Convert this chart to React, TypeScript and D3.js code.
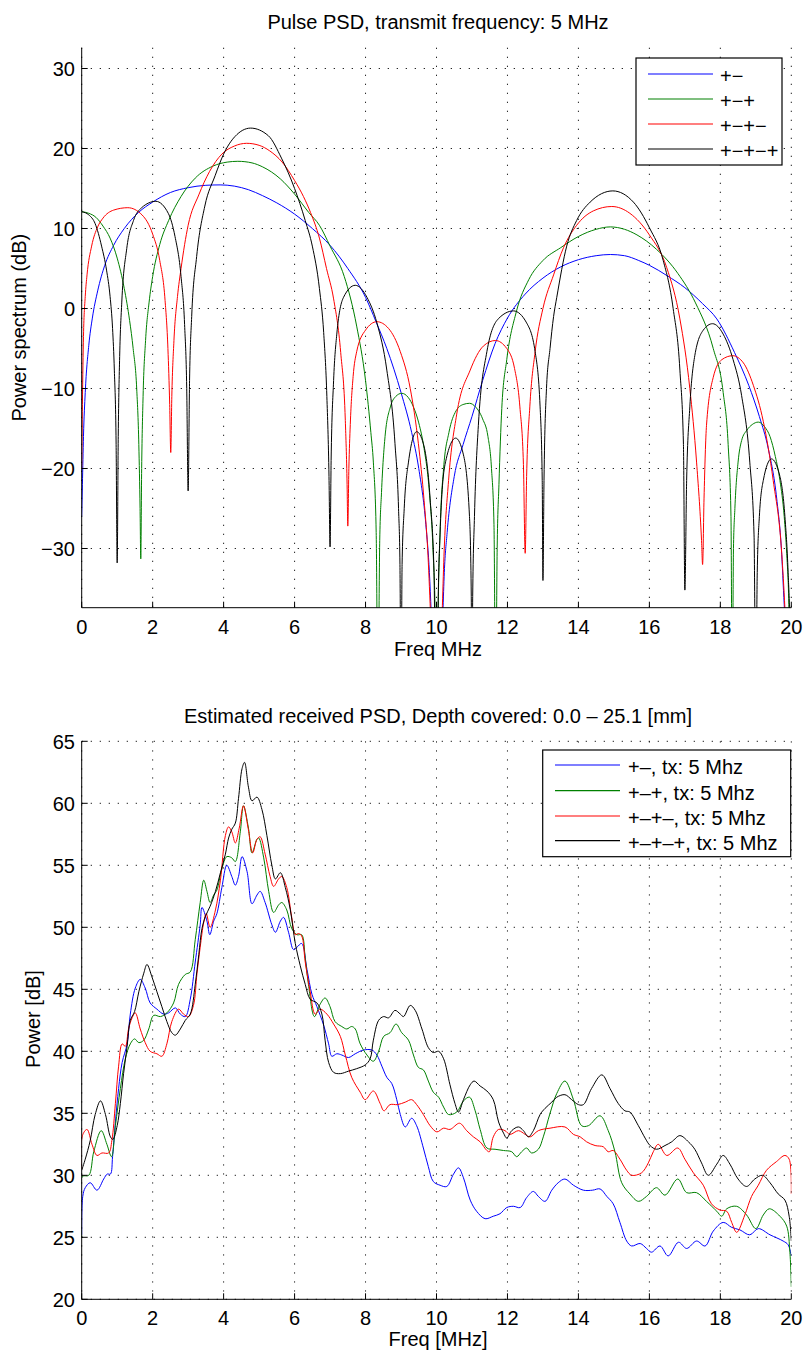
import React from 'react';
import * as d3 from 'd3';

type Pt = [number, number];

// ---------- shared axis data ----------
const freqTicks = [0, 2, 4, 6, 8, 10, 12, 14, 16, 18, 20];
const pulseDbTicks = [-30, -20, -10, 0, 10, 20, 30];
const powerTicks = [20, 25, 30, 35, 40, 45, 50, 55, 60, 65];

const seriesColors = ['#0000ff', '#008000', '#ff0000', '#000000'];
const pulseLabels = ['+\u2212', '+\u2212+', '+\u2212+\u2212', '+\u2212+\u2212+'];
const rxLabels = ['+\u2013, tx: 5 Mhz', '+\u2013+, tx: 5 Mhz', '+\u2013+\u2013, tx: 5 Mhz', '+\u2013+\u2013+, tx: 5 Mhz'];

const pulseTitle = 'Pulse PSD, transmit frequency: 5 MHz';
const rxTitle = 'Estimated received PSD, Depth covered: 0.0 \u2013 25.1 [mm]';

// ---------- top panel: pulse PSD (freq MHz, dB) ----------
const pulsePM: Pt[] = [
  [0, -26], [0.02, -22], [0.05, -16], [0.1, -10.5], [0.2, -4.6], [0.3, -1.2], [0.45, 2.2], [0.65, 5.4],
  [0.9, 7.9], [1.2, 10.0], [1.6, 12.0], [2.0, 13.3], [2.5, 14.5], [3.0, 15.1], [3.5, 15.4], [3.9, 15.45],
  [4.3, 15.3], [4.7, 14.85], [5.1, 14.1], [5.5, 13.2], [6.0, 11.8], [6.5, 10.0], [7.0, 7.9], [7.5, 5.0],
  [8.0, 1.4], [8.3, -1.7], [8.6, -5.0], [9.0, -10.5], [9.3, -15.5], [9.5, -20], [9.7, -27], [9.8, -33],
  [9.85, -38], [10.0, -60], [10.18, -38], [10.22, -33], [10.3, -28], [10.5, -21], [10.75, -17], [11.0, -13.5],
  [11.3, -9.0], [11.65, -4.4], [12.0, -1.2], [12.5, 1.8], [13.0, 3.8], [13.5, 5.2], [14.0, 6.1], [14.5, 6.6],
  [14.9, 6.75], [15.3, 6.6], [15.7, 6.0], [16.0, 5.4], [16.5, 4.1], [17.0, 2.6], [17.5, 0.6], [17.9, -1.3],
  [18.4, -5.5], [18.8, -9.6], [19.1, -13.5], [19.35, -17.5], [19.59, -23.8], [19.72, -30], [19.8, -37],
  [19.9, -45], [20, -60],
];

const pulsePMP: Pt[] = [
  [0, 12.1], [0.2, 11.9], [0.4, 11.4], [0.6, 10.3], [0.8, 8.8], [1.0, 6.3], [1.2, 2.5], [1.35, -1.5],
  [1.45, -5], [1.55, -10], [1.61, -17], [1.645, -25], [1.665, -31.3], [1.69, -20], [1.73, -11], [1.8, -4],
  [1.9, 0.8], [2.0, 4.0], [2.2, 8.0], [2.45, 11.0], [2.8, 14.0], [3.2, 16.3], [3.7, 17.8], [4.1, 18.3],
  [4.4, 18.4], [4.8, 18.2], [5.1, 17.7], [5.6, 16.2], [6.0, 14.3], [6.4, 12.0], [6.7, 10.4], [7.0, 7.8],
  [7.4, 4.0], [7.75, -2.2], [8.0, -9], [8.15, -15.5], [8.22, -19.2], [8.3, -28], [8.35, -50], [8.4, -29],
  [8.45, -23], [8.55, -16], [8.7, -12.3], [8.85, -11], [9.02, -10.6], [9.2, -11.1], [9.35, -12.3],
  [9.5, -14.3], [9.65, -17.5], [9.8, -23], [9.9, -30], [9.97, -40], [10.0, -60], [10.04, -40], [10.1, -28],
  [10.2, -20], [10.35, -15.5], [10.55, -12.8], [10.75, -12.0], [10.93, -11.85], [11.1, -12.3], [11.3, -13.8],
  [11.45, -16], [11.55, -20], [11.62, -27], [11.667, -50], [11.71, -30], [11.76, -22], [11.84, -12.5],
  [11.98, -6.4], [12.25, -0.4], [12.6, 3.6], [13.0, 6.0], [13.5, 7.6], [14.0, 9.0], [14.5, 9.9], [14.9, 10.2],
  [15.3, 9.9], [15.65, 9.2], [16.2, 7.4], [16.8, 4.4], [17.3, 0.7], [17.8, -5], [18.08, -10.5], [18.22, -17],
  [18.3, -26], [18.335, -50], [18.37, -30], [18.41, -25], [18.5, -19.2], [18.6, -16.5], [18.75, -15.2],
  [18.9, -14.5], [19.07, -14.2], [19.25, -14.8], [19.4, -16], [19.55, -18.5], [19.68, -21.5], [19.8, -26],
  [19.87, -30.6], [19.93, -37], [20, -60],
];

const pulsePMPM: Pt[] = [
  [0, -20], [0.02, -12], [0.05, -3.5], [0.1, 1.5], [0.15, 4.2], [0.28, 7.8], [0.45, 10.2], [0.6, 11.3],
  [0.9, 12.3], [1.3, 12.6], [1.7, 11.7], [2.0, 9.3], [2.2, 6.0], [2.35, 1.0], [2.43, -5], [2.48, -12],
  [2.51, -18], [2.54, -11], [2.6, -4], [2.7, 1.5], [2.8, 5.0], [3.0, 10.4], [3.3, 14.2], [3.6, 17.1],
  [3.95, 19.3], [4.3, 20.3], [4.65, 20.65], [5.0, 20.4], [5.3, 19.7], [5.65, 18.3], [6.0, 16.0], [6.25, 14.0],
  [6.45, 12.0], [6.7, 8.8], [6.9, 5.0], [7.1, 1.2], [7.3, -5.5], [7.43, -14], [7.48, -22], [7.5, -27.2],
  [7.53, -20], [7.57, -14.5], [7.65, -8.5], [7.75, -5.4], [8.0, -2.7], [8.32, -1.65], [8.65, -2.5],
  [8.98, -5.4], [9.26, -10], [9.49, -16.9], [9.65, -24], [9.75, -30], [9.83, -38], [10.0, -60], [10.16, -38],
  [10.21, -31], [10.34, -21.5], [10.57, -13.2], [10.95, -7.7], [11.32, -4.7], [11.66, -4.0], [11.98, -5.0],
  [12.2, -7.5], [12.35, -12.3], [12.45, -19.5], [12.5, -30.6], [12.54, -21], [12.63, -12.3], [12.78, -5.4],
  [13.0, 0], [13.3, 4.2], [13.58, 7.6], [13.95, 10.4], [14.42, 12.2], [14.94, 12.75], [15.45, 11.9],
  [16.0, 9.2], [16.49, 5.1], [16.86, -1.3], [17.14, -10], [17.33, -19.2], [17.47, -29], [17.5, -32],
  [17.54, -23.8], [17.61, -14.6], [17.8, -8.6], [18.04, -6.4], [18.35, -5.9], [18.65, -6.8], [18.93, -9.6],
  [19.21, -14.1], [19.49, -21.5], [19.73, -30.6], [19.82, -37.5], [20, -60],
];

const pulsePMPMP: Pt[] = [
  [0, 12.1], [0.2, 11.7], [0.38, 10.6], [0.56, 7.8], [0.7, 4.8], [0.8, 1.5], [0.87, -2.5], [0.92, -7.7],
  [0.97, -17], [1.0, -31.8], [1.03, -16], [1.07, -6], [1.13, 0.8], [1.27, 7.5], [1.46, 11.0], [1.69, 12.6],
  [2.09, 13.4], [2.44, 11.9], [2.63, 9.0], [2.8, 4.0], [2.9, -2], [2.96, -10], [3.0, -22.8], [3.04, -9],
  [3.1, -1], [3.24, 6.5], [3.47, 12.8], [3.76, 16.6], [4.0, 19.3], [4.32, 21.5], [4.76, 22.55], [5.26, 21.6],
  [5.63, 18.8], [6.0, 15.0], [6.3, 11.0], [6.5, 7.8], [6.7, 2.5], [6.82, -3], [6.91, -11], [6.97, -21],
  [7.0, -29.8], [7.03, -19], [7.1, -9], [7.19, -3.2], [7.38, 1.4], [7.71, 2.9], [8.04, 1.4], [8.32, -1.8],
  [8.6, -7.7], [8.83, -16.9], [8.93, -25], [8.97, -32], [9.0, -50], [9.03, -32], [9.09, -25], [9.21, -19.2],
  [9.44, -15.4], [9.63, -16.9], [9.82, -23.8], [9.93, -33], [10.0, -60], [10.05, -36], [10.1, -28.3],
  [10.24, -19.5], [10.54, -16.2], [10.76, -18.3], [10.93, -26], [10.98, -36], [11.0, -60], [11.02, -36],
  [11.07, -26], [11.18, -14.6], [11.42, -5.4], [11.74, -1.3], [12.17, -0.3], [12.54, -1.8], [12.78, -5.4],
  [12.92, -12.3], [12.98, -21.5], [13.0, -34], [13.03, -21.5], [13.1, -10], [13.2, -5], [13.3, -1],
  [13.39, 1.4], [13.67, 7.8], [13.95, 11.0], [14.33, 13.3], [14.97, 14.7], [15.55, 13.3], [16.0, 10.1],
  [16.39, 6.0], [16.67, 0], [16.86, -7.7], [16.96, -17], [17.0, -35.2], [17.05, -21.5], [17.14, -12.3],
  [17.28, -5.9], [17.52, -2.7], [17.78, -1.9], [18.08, -3.2], [18.36, -6.4], [18.6, -10.9], [18.83, -19.2],
  [18.95, -28.3], [19.0, -50], [19.04, -33], [19.1, -26], [19.21, -21.5], [19.44, -18.8], [19.68, -21],
  [19.82, -26], [19.91, -33], [19.96, -40], [20, -60],
];

// ---------- bottom panel: received PSD (freq MHz, dB) ----------
const rxPM: Pt[] = [
  [0, 25.2], [0.03, 28.3], [0.1, 29.0], [0.24, 29.4], [0.43, 28.8], [0.62, 29.7], [0.72, 30.1], [0.81, 30.1],
  [0.87, 31.5], [0.95, 34.3], [1.04, 37], [1.14, 39.1], [1.28, 40.6], [1.37, 43], [1.51, 45.1], [1.65, 45.8],
  [1.79, 45.1], [1.93, 43.9], [2.12, 43.4], [2.31, 43], [2.45, 43.1], [2.64, 43.5], [2.78, 43], [2.92, 42.8],
  [3.06, 44.2], [3.2, 47.2], [3.34, 50.2], [3.39, 51.6], [3.53, 50.5], [3.61, 49.4], [3.72, 50.5], [3.81, 51.1],
  [3.95, 53.2], [4.09, 55], [4.23, 54.1], [4.33, 53.4], [4.42, 54.1], [4.52, 55.7], [4.66, 54.5], [4.8, 51.9],
  [4.94, 52.6], [5.03, 52.9], [5.17, 52], [5.36, 50.2], [5.46, 49.6], [5.6, 50.5], [5.69, 50.8], [5.83, 49.6],
  [5.97, 48.2], [6.07, 48.4], [6.2, 48.7], [6.35, 46.6], [6.49, 44.6], [6.63, 43.6], [6.82, 42.1], [6.96, 40.6],
  [7.05, 39.6], [7.19, 39.8], [7.33, 39.7], [7.52, 39.5], [7.71, 39.8], [7.94, 40.1], [8.18, 40.1], [8.32, 39.7],
  [8.46, 38.8], [8.6, 37.9], [8.74, 37.4], [8.88, 36.1], [8.98, 34.9], [9.12, 33.9], [9.3, 34.6], [9.44, 34],
  [9.63, 32.2], [9.77, 30.7], [9.91, 29.5], [10.1, 29.2], [10.29, 29.1], [10.48, 30.1], [10.62, 30.6],
  [10.76, 29.8], [10.95, 28], [11.13, 27.1], [11.37, 26.5], [11.6, 26.7], [11.79, 26.9], [11.98, 27.4],
  [12.17, 27.5], [12.36, 27.4], [12.54, 28.2], [12.73, 28.7], [12.87, 28.3], [13.06, 27.9], [13.25, 28.8],
  [13.43, 29.4], [13.62, 29.7], [13.86, 29.2], [14.14, 28.8], [14.4, 28.8], [14.61, 28.9], [14.8, 28.3],
  [14.98, 27.7], [15.17, 26.2], [15.36, 24.7], [15.5, 24.3], [15.74, 24.5], [15.92, 24.1], [16.06, 23.8],
  [16.3, 24.3], [16.53, 23.5], [16.82, 24.6], [17.05, 24.1], [17.33, 24.7], [17.57, 24.3], [17.8, 25.5],
  [18.08, 26.2], [18.32, 25.8], [18.55, 25.6], [18.83, 25.2], [19.07, 25.7], [19.4, 25.2], [19.77, 24.7],
  [19.91, 24.4], [20, 23.5],
];

const rxPMP: Pt[] = [
  [0, 25], [0.02, 29.9], [0.2, 30], [0.34, 31.9], [0.55, 33.6], [0.71, 32.5], [0.84, 31.5], [0.95, 34],
  [1.09, 37], [1.23, 39.4], [1.37, 40.6], [1.49, 41], [1.61, 40.7], [1.75, 40.9], [1.89, 41.8], [2.03, 42.9],
  [2.22, 42.8], [2.4, 43.1], [2.59, 43.9], [2.73, 45.4], [2.92, 46.2], [3.06, 46.4], [3.2, 49], [3.34, 52],
  [3.44, 53.8], [3.53, 52.9], [3.62, 52], [3.72, 52.6], [3.81, 53], [3.95, 54.7], [4.09, 55.7], [4.23, 55.6],
  [4.33, 55.3], [4.47, 57.7], [4.56, 59.8], [4.7, 58], [4.8, 56], [4.94, 57.1], [4.99, 57.2], [5.13, 55.6],
  [5.27, 52.9], [5.41, 51.2], [5.55, 51.8], [5.64, 52], [5.78, 51.4], [5.92, 49.9], [6.07, 49.4], [6.2, 49.4],
  [6.3, 47.5], [6.39, 45.4], [6.56, 42.8], [6.72, 43.8], [6.86, 44.3], [7.0, 43.6], [7.14, 42.4], [7.33, 42],
  [7.47, 41.8], [7.61, 42], [7.71, 41.8], [7.85, 40.6], [8.04, 39.7], [8.22, 39.2], [8.37, 40], [8.51, 41.2],
  [8.69, 41.5], [8.86, 42.2], [9.02, 41.5], [9.21, 40.9], [9.35, 39.7], [9.49, 38.7], [9.63, 38.5], [9.77, 37.6],
  [9.91, 36.7], [10.06, 36.3], [10.2, 35.5], [10.34, 34.9], [10.57, 35.1], [10.76, 36], [10.93, 36.3],
  [11.09, 35.2], [11.23, 33.7], [11.42, 32.2], [11.65, 32.1], [11.89, 32], [12.12, 31.9], [12.26, 31.5],
  [12.4, 31.9], [12.54, 32.2], [12.68, 31.8], [12.87, 32.1], [13.01, 33.1], [13.2, 35], [13.39, 36.6],
  [13.62, 37.6], [13.86, 36.1], [14.09, 34], [14.28, 34], [14.61, 34.8], [14.84, 33.6], [15.03, 31.9],
  [15.22, 29.4], [15.45, 28.5], [15.69, 27.9], [15.92, 28.3], [16.2, 29], [16.44, 28.4], [16.8, 29.7],
  [17.05, 28.6], [17.33, 28.6], [17.61, 27.9], [17.9, 27.1], [18.04, 26.7], [18.18, 27.3], [18.46, 27.5],
  [18.74, 26.8], [19.0, 25.7], [19.21, 26.8], [19.38, 27.3], [19.68, 26.7], [19.87, 25.9], [19.96, 23.8],
  [20, 21],
];

const rxPMPM: Pt[] = [
  [0, 30.5], [0.02, 33.2], [0.15, 33.7], [0.29, 32.5], [0.43, 31.6], [0.57, 31.8], [0.76, 31.8], [0.85, 32.8],
  [0.95, 35.8], [1.04, 38.8], [1.14, 40.6], [1.23, 40.4], [1.32, 41.8], [1.42, 42.7], [1.51, 43.1], [1.65, 41.8],
  [1.79, 40.7], [1.93, 40], [2.12, 39.8], [2.26, 39.6], [2.4, 40.6], [2.54, 42.4], [2.73, 43.4], [2.87, 43],
  [3.01, 42.8], [3.15, 43.7], [3.25, 46.3], [3.34, 48.4], [3.44, 50.4], [3.51, 51.1], [3.62, 50], [3.77, 51.4],
  [3.91, 53.8], [4.05, 57.4], [4.14, 58.1], [4.23, 57.7], [4.33, 56.8], [4.44, 58], [4.56, 59.8], [4.69, 58],
  [4.82, 56], [4.94, 57.1], [5.03, 57.3], [5.17, 55.9], [5.31, 54.1], [5.41, 53.3], [5.55, 53.9], [5.64, 54.1],
  [5.78, 53.2], [5.92, 50.8], [6.02, 49.4], [6.11, 49.5], [6.2, 49.3], [6.3, 47.2], [6.44, 44.8], [6.58, 43],
  [6.72, 43.4], [6.91, 43], [7.1, 42.2], [7.29, 41.2], [7.43, 39.7], [7.61, 37.9], [7.85, 36.7], [7.99, 36.1],
  [8.22, 36.8], [8.41, 35.8], [8.52, 35.2], [8.69, 35.7], [8.9, 35.7], [9.12, 35.9], [9.3, 36.1], [9.44, 35.7],
  [9.63, 34.9], [9.82, 34], [10.01, 33.5], [10.2, 33.8], [10.38, 33.7], [10.65, 34.2], [10.85, 33.6],
  [11.04, 33.1], [11.23, 32.7], [11.42, 32], [11.49, 31.9], [11.6, 33.1], [11.75, 33.7], [11.93, 33.6],
  [12.07, 33.3], [12.31, 33.6], [12.5, 33.3], [12.64, 33.1], [12.87, 33.6], [13.2, 33.8], [13.62, 33.9],
  [13.86, 33.3], [14.05, 33.1], [14.23, 32.7], [14.47, 32.4], [14.7, 32.3], [14.84, 31.9], [14.98, 32],
  [15.17, 31.3], [15.36, 30.4], [15.5, 30], [15.78, 30.2], [15.97, 31], [16.11, 31.9], [16.25, 32.5],
  [16.49, 31.6], [16.8, 32.2], [17.0, 31.3], [17.24, 30.2], [17.52, 29.2], [17.75, 27.7], [17.99, 27.2],
  [18.18, 27.1], [18.32, 26.2], [18.46, 25.4], [18.69, 26.8], [18.88, 28.3], [19.07, 29.2], [19.3, 30.4],
  [19.58, 31.1], [19.82, 31.6], [19.94, 31.3], [20, 28.5],
];

const rxPMPMP: Pt[] = [
  [0, 30.4], [0.1, 31.3], [0.24, 32.8], [0.38, 34.9], [0.53, 36], [0.67, 34.9], [0.81, 33.1], [0.88, 32.9],
  [1.0, 34], [1.09, 35.8], [1.18, 38.2], [1.28, 40.4], [1.37, 42.5], [1.49, 43.2], [1.61, 44.8], [1.75, 46.3],
  [1.84, 47], [1.98, 46], [2.12, 44.8], [2.26, 43.6], [2.4, 42.4], [2.54, 41.5], [2.64, 41.3], [2.78, 41.8],
  [2.92, 42.5], [3.06, 43], [3.2, 45.4], [3.3, 47.8], [3.39, 49.9], [3.49, 50.9], [3.62, 51.7], [3.77, 52.9],
  [3.91, 54.4], [4.05, 55.9], [4.14, 57.2], [4.23, 57.9], [4.33, 58.4], [4.42, 60.4], [4.52, 62.8], [4.59, 63.3],
  [4.7, 61.3], [4.8, 60.2], [4.94, 60.5], [5.08, 59.5], [5.22, 57.4], [5.36, 55], [5.46, 53.9], [5.6, 54.4],
  [5.74, 53.2], [5.88, 51.4], [6.02, 48.7], [6.16, 46.9], [6.3, 45.4], [6.44, 44.2], [6.63, 43.9], [6.77, 43],
  [6.86, 40.9], [6.96, 39.1], [7.1, 38.3], [7.29, 38.2], [7.52, 38.4], [7.75, 38.6], [7.99, 38.9], [8.13, 39.4],
  [8.22, 40.9], [8.37, 42.5], [8.51, 42.8], [8.65, 42.7], [8.83, 43.3], [8.98, 43], [9.07, 42.8], [9.26, 43.7],
  [9.4, 43.3], [9.59, 41.8], [9.77, 40.3], [9.91, 39.9], [10.06, 40], [10.2, 39.4], [10.38, 37.3], [10.52, 35.8],
  [10.62, 35.1], [10.76, 36.1], [10.95, 37.3], [11.06, 37.6], [11.23, 37.2], [11.42, 36.8], [11.6, 36.1],
  [11.75, 34.3], [11.89, 33.4], [11.98, 33], [12.12, 33.6], [12.31, 33.9], [12.45, 33.6], [12.59, 33.1],
  [12.73, 33.6], [12.92, 34.9], [13.06, 35.4], [13.25, 35.9], [13.39, 36.3], [13.62, 36.5], [13.81, 36.1],
  [14.0, 35.7], [14.14, 35.7], [14.37, 37], [14.66, 38.1], [14.89, 37], [15.12, 35.8], [15.31, 35.2],
  [15.45, 35.1], [15.69, 34], [15.88, 33], [16.02, 32.4], [16.2, 32.1], [16.44, 32.4], [16.63, 32.7],
  [16.86, 33.2], [17.1, 32.7], [17.28, 32.1], [17.47, 31], [17.66, 30], [17.9, 30.9], [18.08, 31.6],
  [18.27, 30.9], [18.5, 29.7], [18.74, 29.1], [18.97, 29.7], [19.19, 30], [19.4, 29.4], [19.63, 28.5],
  [19.82, 28], [19.94, 26.7], [20, 24.7],
];

const pulseSeries = [pulsePM, pulsePMP, pulsePMPM, pulsePMPMP];
const rxSeries = [rxPM, rxPMP, rxPMPM, rxPMPMP];

// ---------- layout ----------
const W = 805;
const H = 1356;
const FONT = "'Liberation Sans', Arial, Helvetica, sans-serif";
const FS = 20;
const X0 = 81.7;
const X1 = 791.3;
const CX = 438;

interface PanelProps {
  id: string;
  top: number;
  bottom: number;
  yDomain: [number, number];
  yTicks: number[];
  series: Pt[][];
  curve: d3.CurveFactory;
  title: string;
  titleY: number;
  xLabel: string;
  xLabelY: number;
  yLabel: string;
  yLabelX: number;
  yLabelY: number;
  tickLabelY: number;
  legendLabels: string[];
  legendBox: { x: number; y: number; w: number; h: number };
  legendLineX: [number, number];
  legendTextX: number;
  legendRowY: number[];
  legendTextDy: number;
}

function Panel(p: PanelProps) {
  const x = d3.scaleLinear().domain([0, 20]).range([X0, X1]);
  const y = d3.scaleLinear().domain(p.yDomain).range([p.bottom, p.top]);
  const line = d3
    .line<Pt>()
    .x((d) => x(d[0]))
    .y((d) => y(d[1]))
    .curve(p.curve);
  const fmt = d3.format('d');
  const tickLen = 6;
  const grid = { stroke: '#000', strokeWidth: 1, strokeDasharray: '1.3 7.7', opacity: 0.85 };
  return (
    <g>
      <defs>
        <clipPath id={p.id}>
          <rect x={X0} y={p.top} width={X1 - X0} height={p.bottom - p.top} />
        </clipPath>
      </defs>
      {/* grid */}
      {freqTicks.map((t) => (
        <line key={'gx' + t} x1={x(t)} x2={x(t)} y1={p.top} y2={p.bottom} {...grid} />
      ))}
      {p.yTicks.map((t) => (
        <line key={'gy' + t} x1={X0} x2={X1} y1={y(t)} y2={y(t)} {...grid} />
      ))}
      {/* series */}
      <g clipPath={`url(#${p.id})`}>
        {p.series.map((s, i) => (
          <path key={i} d={line(s) || ''} fill="none" stroke={seriesColors[i]} strokeWidth={1} />
        ))}
      </g>
      {/* axes */}
      <line x1={X0} x2={X0} y1={p.top} y2={p.bottom} stroke="#000" strokeWidth={1} />
      <line x1={X0} x2={X1} y1={p.bottom} y2={p.bottom} stroke="#000" strokeWidth={1} />
      {freqTicks.map((t) => (
        <g key={'tx' + t}>
          <line x1={x(t)} x2={x(t)} y1={p.bottom} y2={p.bottom - tickLen} stroke="#000" strokeWidth={1} />
          <text x={x(t)} y={p.tickLabelY} textAnchor="middle" fontFamily={FONT} fontSize={FS} fill="#000">
            {fmt(t)}
          </text>
        </g>
      ))}
      {p.yTicks.map((t) => (
        <g key={'ty' + t}>
          <line x1={X0} x2={X0 + tickLen} y1={y(t)} y2={y(t)} stroke="#000" strokeWidth={1} />
          <text x={75} y={y(t) + 7.5} textAnchor="end" fontFamily={FONT} fontSize={FS} fill="#000">
            {fmt(t)}
          </text>
        </g>
      ))}
      {/* labels */}
      <text x={CX} y={p.titleY} textAnchor="middle" fontFamily={FONT} fontSize={FS} fill="#000">
        {p.title}
      </text>
      <text x={CX} y={p.xLabelY} textAnchor="middle" fontFamily={FONT} fontSize={FS} fill="#000">
        {p.xLabel}
      </text>
      <text
        transform={`translate(${p.yLabelX},${p.yLabelY}) rotate(-90)`}
        textAnchor="middle"
        fontFamily={FONT}
        fontSize={FS}
        fill="#000"
      >
        {p.yLabel}
      </text>
      {/* legend */}
      <rect
        x={p.legendBox.x}
        y={p.legendBox.y}
        width={p.legendBox.w}
        height={p.legendBox.h}
        fill="#fff"
        stroke="#000"
        strokeWidth={1.2}
      />
      {p.legendLabels.map((lab, i) => (
        <g key={'lg' + i}>
          <line
            x1={p.legendLineX[0]}
            x2={p.legendLineX[1]}
            y1={p.legendRowY[i]}
            y2={p.legendRowY[i]}
            stroke={seriesColors[i]}
            strokeWidth={1.2}
          />
          <text
            x={p.legendTextX}
            y={p.legendRowY[i] + p.legendTextDy}
            fontFamily={FONT}
            fontSize={FS}
            fill="#000"
          >
            {lab}
          </text>
        </g>
      ))}
    </g>
  );
}

export default function App() {
  return (
    <svg
      width={W}
      height={H}
      viewBox={`0 0 ${W} ${H}`}
      style={{ position: 'absolute', left: 0, top: 0, background: '#fff' }}
    >
      <rect x={0} y={0} width={W} height={H} fill="#fff" />
      <Panel
        id="clipTop"
        top={47.7}
        bottom={607.7}
        yDomain={[-37.4, 32.6]}
        yTicks={pulseDbTicks}
        series={pulseSeries}
        curve={d3.curveMonotoneX}
        title={pulseTitle}
        titleY={29}
        xLabel="Freq MHz"
        xLabelY={655.5}
        yLabel="Power spectrum (dB)"
        yLabelX={26}
        yLabelY={327.7}
        tickLabelY={633.5}
        legendLabels={pulseLabels}
        legendBox={{ x: 636, y: 58, w: 146, h: 107 }}
        legendLineX={[648, 713]}
        legendTextX={720}
        legendRowY={[74, 99, 124, 149]}
        legendTextDy={9}
      />
      <Panel
        id="clipBot"
        top={741.3}
        bottom={1299.3}
        yDomain={[20, 65]}
        yTicks={powerTicks}
        series={rxSeries}
        curve={d3.curveCatmullRom.alpha(0.5)}
        title={rxTitle}
        titleY={722.5}
        xLabel="Freq [MHz]"
        xLabelY={1346}
        yLabel="Power [dB]"
        yLabelX={39.5}
        yLabelY={1019}
        tickLabelY={1325}
        legendLabels={rxLabels}
        legendBox={{ x: 542.7, y: 750, w: 248, h: 106.7 }}
        legendLineX={[555, 620]}
        legendTextX={628}
        legendRowY={[765, 790.7, 816, 840.7]}
        legendTextDy={9}
      />
    </svg>
  );
}
